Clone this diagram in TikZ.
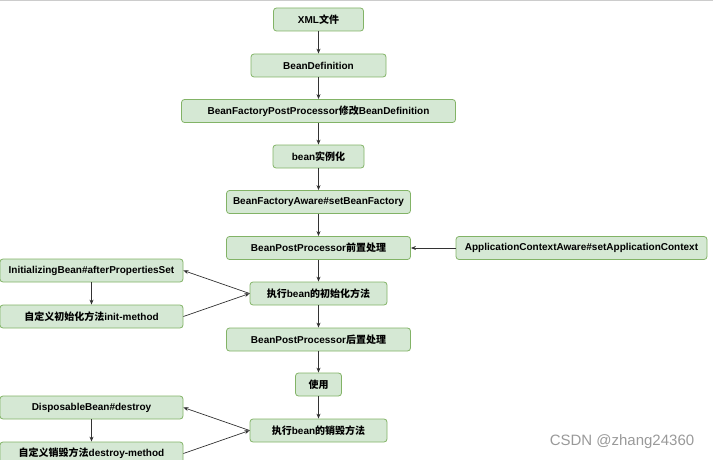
\documentclass[tikz,border=0pt]{standalone}
\usepackage{fontspec}
\setmainfont{Liberation Sans}
\newfontfamily\cjk{Noto Sans CJK SC}
\newcommand{\zh}[1]{{\cjk #1}}
\usetikzlibrary{arrows.meta}
\definecolor{boxfill}{HTML}{D5E8D4}
\definecolor{boxline}{HTML}{82B366}

\begin{document}
\begin{tikzpicture}[x=1pt,y=-1pt,
	box/.style={draw=boxline,fill=boxfill,rounded corners=3pt,line width=0.8pt,
		minimum height=23pt,inner sep=0pt,font=\bfseries\fontsize{10pt}{12pt}\selectfont},
	arr/.style={-{Stealth[length=5pt,width=4pt]},line width=0.7pt,black!80}]
	% Рамка
	\useasboundingbox (0,0) rectangle (713,460);
	\draw[black!20,line width=1pt] (0,0.5) -- (713,0.5);
	% Основная цепочка
	\node[box,minimum width=90pt]  (xml)    at (318.5,19.5)  {XML\zh{文件}};
	\node[box,minimum width=135pt] (bdef)   at (318.5,65.5)  {BeanDefinition};
	\node[box,minimum width=274pt] (bfpp)   at (318.5,111)   {BeanFactoryPostProcessor\zh{修改}BeanDefinition};
	\node[box,minimum width=91pt]  (inst)   at (318.5,156.5) {bean\zh{实例化}};
	\node[box,minimum width=184pt] (bfa)    at (318.5,202)   {BeanFactoryAware\#setBeanFactory};
	\node[box,minimum width=184pt] (bppre)  at (318.5,248)   {BeanPostProcessor\zh{前置处理}};
	\node[box,minimum width=137pt] (exinit) at (318.5,293.5) {\zh{执行}bean\zh{的初始化方法}};
	\node[box,minimum width=184pt] (bppost) at (318.5,339.5) {BeanPostProcessor\zh{后置处理}};
	\node[box,minimum width=46pt]  (use)    at (318.5,384.5) {\zh{使用}};
	\node[box,minimum width=137pt] (exdes)  at (318.5,430.5) {\zh{执行}bean\zh{的销毁方法}};
	% Боковые узлы
	\node[box,minimum width=251pt] (aca)    at (581.5,248)   {ApplicationContextAware\#setApplicationContext};
	\node[box,minimum width=183pt] (initb)  at (91.5,270.5)  {InitializingBean\#afterPropertiesSet};
	\node[box,minimum width=183pt] (initm)  at (91.5,316.5)  {\zh{自定义初始化方法}init-method};
	\node[box,minimum width=183pt] (disp)   at (91.5,407.5)  {DisposableBean\#destroy};
	\node[box,minimum width=183pt] (desm)   at (91.5,453.5)  {\zh{自定义销毁方法}destroy-method};
	% Водяной знак
	\node[text=black!40,font=\fontsize{15pt}{18pt}\selectfont] (mark) at (622,442) {CSDN @zhang24360};
	% Стрелки
	\draw[arr] (xml) -- (bdef);
	\draw[arr] (bdef) -- (bfpp);
	\draw[arr] (bfpp) -- (inst);
	\draw[arr] (inst) -- (bfa);
	\draw[arr] (bfa) -- (bppre);
	\draw[arr] (bppre) -- (exinit);
	\draw[arr] (exinit) -- (bppost);
	\draw[arr] (bppost) -- (use);
	\draw[arr] (use) -- (exdes);
	\draw[arr] (aca) -- (bppre);
	\draw[arr] (exinit.west) -- (initb.east);
	\draw[arr] (initb) -- (initm);
	\draw[arr] (initm.east) -- (exinit.west);
	\draw[arr] (exdes.west) -- (disp.east);
	\draw[arr] (disp) -- (desm);
	\draw[arr] (desm.east) -- (exdes.west);
\end{tikzpicture}
\end{document}
